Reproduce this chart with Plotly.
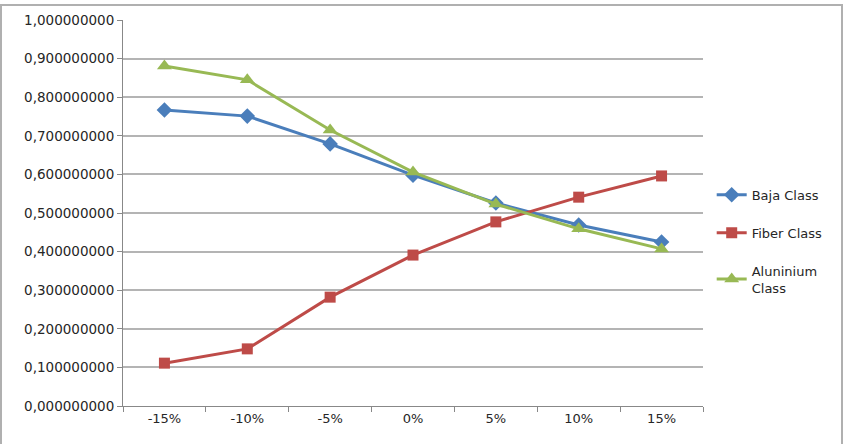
import plotly.graph_objects as go

categories = ["-15%", "-10%", "-5%", "0%", "5%", "10%", "15%"]
baja = [0.767, 0.751, 0.679, 0.598, 0.526, 0.469, 0.425]
fiber = [0.111, 0.148, 0.282, 0.391, 0.477, 0.541, 0.596]
aluminium = [0.881, 0.845, 0.715, 0.606, 0.523, 0.459, 0.407]
y_ticks = [0.0, 0.1, 0.2, 0.3, 0.4, 0.5, 0.6, 0.7, 0.8, 0.9, 1.0]

FONT = "DejaVu Sans"
fig = go.Figure()
series = [
    ("Baja Class", baja, "#4a7ebb", "diamond", 12),
    ("Fiber Class", fiber, "#be4b48", "square", 11),
    ("Aluninium<br>Class", aluminium, "#98b954", "triangle-up", 13),
]
for i, (name, vals, col, sym, sz) in enumerate(series):
    fig.add_trace(go.Scatter(
        x=categories, y=vals, name=name, mode="lines+markers",
        line=dict(color=col, width=3),
        marker=dict(symbol=sym, size=sz, color=col),
        legendgroup=f"g{i}",
    ))

fig.update_layout(
    width=848, height=444,
    margin=dict(l=123, r=145, t=20, b=38),
    paper_bgcolor="white", plot_bgcolor="white",
    separators=",.",
    font=dict(family=FONT, size=13, color="#262626"),
    showlegend=True,
    legend=dict(x=1.015, y=0.586, xanchor="left", yanchor="top",
                traceorder="grouped", tracegroupgap=18,
                font=dict(family=FONT, size=13, color="#262626"),
                bgcolor="rgba(0,0,0,0)"),
    xaxis=dict(type="category", showgrid=False, showline=True,
               linecolor="#888888", linewidth=1, ticks="outside",
               tickson="boundaries", ticklen=5, tickcolor="#888888",
               range=[-0.5, 6.5], zeroline=False),
    yaxis=dict(range=[0, 1.0], tickvals=y_ticks, tickformat=".9f",
               tickfont=dict(size=13.5),
               showgrid=True, gridcolor="#b4b4b4", gridwidth=1.5,
               showline=True, linecolor="#888888", linewidth=1,
               ticks="outside", ticklen=5, tickcolor="#888888",
               zeroline=False),
    shapes=[dict(type="rect", xref="paper", yref="paper",
                 x0=(1 - 123) / 580, x1=(842 - 123) / 580,
                 y0=(406 - 460) / 386, y1=(406 - 5) / 386,
                 line=dict(color="#b0b0b0", width=2), layer="below")],
)

fig.write_html("out.html")
